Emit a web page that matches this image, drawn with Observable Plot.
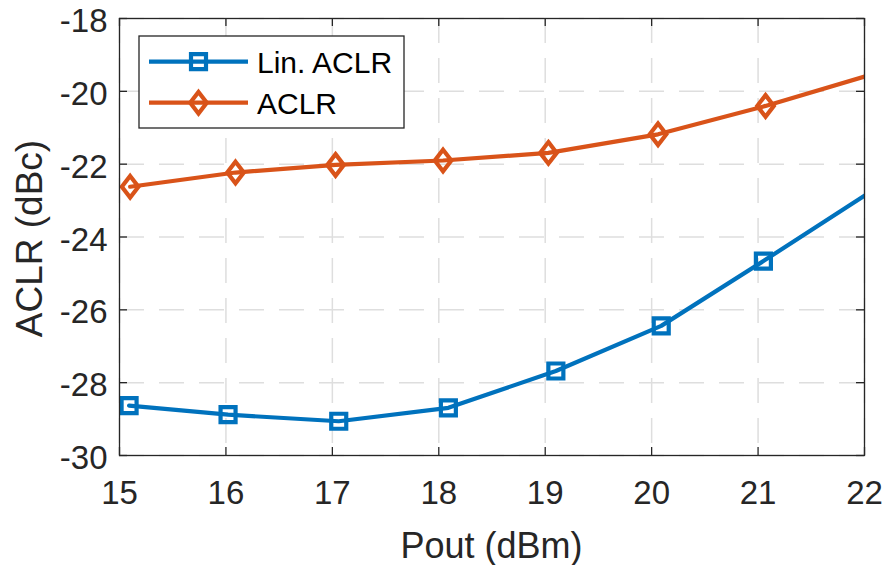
<!DOCTYPE html>
<html>
<head>
<meta charset="utf-8">
<script src="https://cdn.jsdelivr.net/npm/d3@7"></script>
<script src="https://cdn.jsdelivr.net/npm/@observablehq/plot@0.6"></script>
<style>
  html, body { margin: 0; padding: 0; background: #fff; }
  #chart { width: 883px; height: 565px; }
</style>
</head>
<body>
<div id="chart"></div>
<script>
// Output power sweep (dBm) and measured ACLR (dBc) for both cases
const pout_lin = [15.09, 16.02, 17.06, 18.09, 19.10, 20.09, 21.05, 22.10];
const aclr_lin = [-28.63, -28.88, -29.06, -28.69, -27.68, -26.44, -24.66, -22.68];
const pout_aclr = [15.10, 16.09, 17.03, 18.04, 19.03, 20.06, 21.07, 22.10];
const aclr_aclr = [-22.62, -22.23, -22.02, -21.90, -21.69, -21.18, -20.40, -19.51];

const seriesNames = ["Lin. ACLR", "ACLR"];
const xTicks = [15, 16, 17, 18, 19, 20, 21, 22];
const yTicks = [-30, -28, -26, -24, -22, -20, -18];
const xTitle = "Pout (dBm)";
const yTitle = "ACLR (dBc)";

const BLUE = "#0072BD", ORANGE = "#D95319", AXIS = "#262626";
const FONT = "'Liberation Sans', Arial, Helvetica, sans-serif";

const W = 883, H = 565;
const mL = 119, mR = 19, mT = 18, mB = 110;
const innerW = W - mL - mR, innerH = H - mT - mB;
const TICK = 8;
const LW = 4.2;
const TICK_FONT = 33;

const lin = pout_lin.map((x, i) => ({x, y: aclr_lin[i]}));
const acl = pout_aclr.map((x, i) => ({x, y: aclr_aclr[i]}));

// MATLAB-like diamond marker (taller than wide)
const diamond = {
  draw(context, size) {
    const r = Math.sqrt(size / Math.PI);
    context.moveTo(0, -1.3 * r);
    context.lineTo(r, 0);
    context.lineTo(0, 1.3 * r);
    context.lineTo(-r, 0);
    context.closePath();
  }
};
const square = {
  draw(context, size) {
    const r = Math.sqrt(size / Math.PI);
    context.rect(-r, -r, 2 * r, 2 * r);
  }
};
const SQ_R = 7.5, DI_R = 8.3;

const gridStyle = {stroke: "#dedede", strokeOpacity: 1, strokeWidth: 1.5, strokeDasharray: "25,15"};

const chart = Plot.plot({
  width: W, height: H,
  marginLeft: mL, marginRight: mR, marginTop: mT, marginBottom: mB,
  style: {fontFamily: FONT, fontSize: TICK_FONT + "px", background: "#fff", overflow: "visible"},
  x: {domain: [15, 22]},
  y: {domain: [-30, -18]},
  marks: [
    Plot.gridX(xTicks, gridStyle),
    Plot.gridY(yTicks, gridStyle),
    // inward ticks on all four sides
    Plot.tickX(xTicks, {x: d => d, stroke: AXIS, strokeWidth: 1.3, insetTop: innerH - TICK}),
    Plot.tickX(xTicks, {x: d => d, stroke: AXIS, strokeWidth: 1.3, insetBottom: innerH - TICK}),
    Plot.tickY(yTicks, {y: d => d, stroke: AXIS, strokeWidth: 1.3, insetRight: innerW - TICK}),
    Plot.tickY(yTicks, {y: d => d, stroke: AXIS, strokeWidth: 1.3, insetLeft: innerW - TICK}),
    Plot.axisX({ticks: xTicks, tickSize: 0, tickPadding: 25, label: null, fontSize: TICK_FONT,
      tickFormat: d => String(d), color: AXIS}),
    Plot.axisY({ticks: yTicks, tickSize: 0, tickPadding: 12, label: null, fontSize: TICK_FONT,
      dy: 3, tickFormat: d => String(d), color: AXIS}),
    // data
    Plot.line(lin, {x: "x", y: "y", stroke: BLUE, strokeWidth: LW, clip: true}),
    Plot.dot(lin, {x: "x", y: "y", stroke: BLUE, strokeWidth: LW, fill: "none", symbol: square, r: SQ_R, clip: true}),
    Plot.line(acl, {x: "x", y: "y", stroke: ORANGE, strokeWidth: LW, clip: true}),
    Plot.dot(acl, {x: "x", y: "y", stroke: ORANGE, strokeWidth: LW, fill: "none", symbol: diamond, r: DI_R, clip: true}),
    Plot.frame({stroke: AXIS, strokeWidth: 1.3})
  ]
});

const svg = d3.select(chart);

// axis titles
svg.append("text")
  .attr("x", mL + innerW / 2).attr("y", 558)
  .attr("text-anchor", "middle")
  .attr("font-family", FONT).attr("font-size", 36).attr("fill", AXIS)
  .text(xTitle);
svg.append("text")
  .attr("transform", `translate(${42},${mT + innerH / 2 + 2}) rotate(-90)`)
  .attr("text-anchor", "middle")
  .attr("font-family", FONT).attr("font-size", 37).attr("fill", AXIS)
  .text(yTitle);

// legend box
const lg = svg.append("g");
lg.append("rect")
  .attr("x", 139).attr("y", 36).attr("width", 265).attr("height", 92)
  .attr("fill", "#fff").attr("stroke", AXIS).attr("stroke-width", 1.3);
const entries = [
  {name: seriesNames[0], color: BLUE, symbol: square, r: SQ_R, cy: 61.7},
  {name: seriesNames[1], color: ORANGE, symbol: diamond, r: DI_R, cy: 102.7}
];
for (const e of entries) {
  lg.append("line")
    .attr("x1", 149).attr("x2", 248).attr("y1", e.cy).attr("y2", e.cy)
    .attr("stroke", e.color).attr("stroke-width", LW);
  lg.append("path")
    .attr("transform", `translate(198.5,${e.cy})`)
    .attr("d", d3.symbol(e.symbol, Math.PI * e.r * e.r)())
    .attr("fill", "none").attr("stroke", e.color).attr("stroke-width", LW);
  lg.append("text")
    .attr("x", 257).attr("y", e.cy).attr("dy", "0.36em")
    .attr("text-anchor", "start")
    .attr("font-family", FONT).attr("font-size", 30).attr("fill", "#000")
    .text(e.name);
}

document.getElementById("chart").appendChild(chart);
</script>
</body>
</html>
